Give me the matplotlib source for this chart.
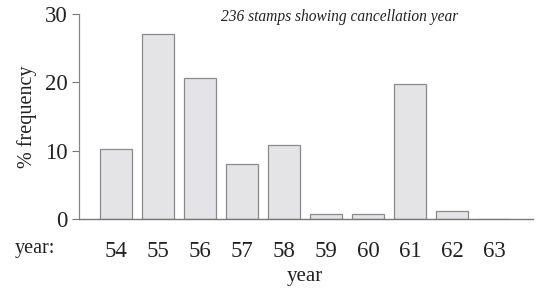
import matplotlib
matplotlib.use("Agg")
import matplotlib.pyplot as plt

years = [54, 55, 56, 57, 58, 59, 60, 61, 62, 63]
freq = [10.2, 27.0, 20.7, 8.0, 10.8, 0.8, 0.8, 19.7, 1.2, 0.0]
yticks = [0, 10, 20, 30]
title = "236 stamps showing cancellation year"

plt.rcParams['font.family'] = ['Liberation Serif', 'DejaVu Serif']

fig = plt.figure(figsize=(5.37, 2.91), dpi=100)
ax = fig.add_axes([0.147, 0.247, 0.846, 0.705])

ax.bar(years, freq, width=0.76, color='#e4e4e6', edgecolor='#8a8a8a', linewidth=0.9)

ax.set_xlim(53.12, 63.93)
ax.set_ylim(0, 30)
ax.set_yticks(yticks)
ax.set_xticks(years)
ax.tick_params(axis='y', direction='out', length=5, width=0.8, color='#777777',
               labelsize=16.5, pad=3, labelcolor='#222222')
ax.tick_params(axis='x', length=0, labelsize=16.5, pad=16, labelcolor='#222222')

for s in ['top', 'right']:
    ax.spines[s].set_visible(False)
ax.spines['left'].set_color('#888888')
ax.spines['left'].set_linewidth(0.9)
ax.spines['bottom'].set_color('#777777')
ax.spines['bottom'].set_linewidth(1.0)

ax.set_ylabel('% frequency', fontsize=14.5, color='#222222', labelpad=6)
fig.text(305 / 537, 1 - 276 / 291, 'year', ha='center', va='center', fontsize=15,
         color='#222222')
fig.text(340 / 537, 1 - 17 / 291, title, ha='center', va='center',
         fontsize=11.2, style='italic', color='#222222')
fig.text(15 / 537, 1 - 248 / 291, 'year:', ha='left', va='center', fontsize=14.5,
         color='#222222')

fig.savefig('out.png', dpi=100)
